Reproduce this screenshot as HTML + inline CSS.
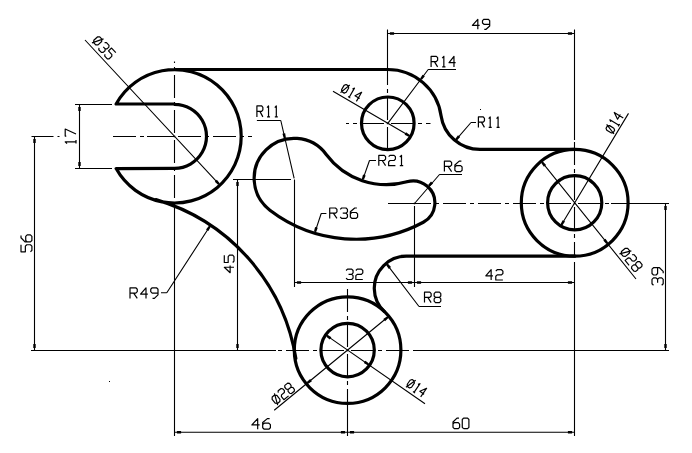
<!DOCTYPE html>
<html><head><meta charset="utf-8"><style>
html,body{margin:0;padding:0;background:#fff;}
svg{display:block;}
.o{fill:none;stroke:#000;stroke-width:3.2;stroke-linejoin:round;stroke-linecap:round;}
.t{fill:none;stroke:#000;stroke-width:1.1;}
.c{fill:none;stroke:#000;stroke-width:1.1;}
.ar{fill:#000;}
.tx{fill:none;stroke:#000;stroke-width:1.2;stroke-linejoin:round;}
</style></head><body>
<svg width="692" height="453" viewBox="0 0 692 453">
<rect width="692" height="453" fill="#fff"/>
<path class="c" style="stroke-dasharray:0 3.5 23 4 4 4 23 4 4 4 23 4 4 4 23 4 4 4 23 4 4 4 23 4 4 4 23 4 4 4 23 4 4 4" d="M174.5 136.5 L111.5 136.5"/>
<path class="c" style="stroke-dasharray:0 3.5 23 4 4 4 23 4 4 4 23 4 4 4 23 4 4 4 23 4 4 4 23 4 4 4 23 4 4 4 23 4 4 4" d="M174.5 136.5 L252 136.5"/>
<path class="c" style="stroke-dasharray:0 3.5 23 4 4 4 23 4 4 4 23 4 4 4 23 4 4 4 23 4 4 4 23 4 4 4 23 4 4 4 23 4 4 4" d="M174.5 136.5 L174.5 61.5"/>
<path class="c" style="stroke-dasharray:0 3.5 23 4 4 4 23 4 4 4 23 4 4 4 23 4 4 4 23 4 4 4 23 4 4 4 23 4 4 4 23 4 4 4" d="M174.5 136.5 L174.5 202.5"/>
<path class="c" style="stroke-dasharray:0 3.5 23 4 4 4 23 4 4 4 23 4 4 4 23 4 4 4 23 4 4 4 23 4 4 4 23 4 4 4 23 4 4 4" d="M174.5 136.5 L174.5 136.5"/>
<path class="c" style="stroke-dasharray:0 3.5 23 4 4 4 23 4 4 4 23 4 4 4 23 4 4 4 23 4 4 4 23 4 4 4 23 4 4 4 23 4 4 4" d="M387.5 123.5 L346 123.5"/>
<path class="c" style="stroke-dasharray:0 3.5 23 4 4 4 23 4 4 4 23 4 4 4 23 4 4 4 23 4 4 4 23 4 4 4 23 4 4 4 23 4 4 4" d="M387.5 123.5 L430.5 123.5"/>
<path class="c" style="stroke-dasharray:0 3.5 23 4 4 4 23 4 4 4 23 4 4 4 23 4 4 4 23 4 4 4 23 4 4 4 23 4 4 4 23 4 4 4" d="M387.5 123.5 L387.5 77"/>
<path class="c" style="stroke-dasharray:0 3.5 23 4 4 4 23 4 4 4 23 4 4 4 23 4 4 4 23 4 4 4 23 4 4 4 23 4 4 4 23 4 4 4" d="M387.5 123.5 L387.5 151.5"/>
<path class="c" style="stroke-dasharray:0 3.5 23 4 4 4 23 4 4 4 23 4 4 4 23 4 4 4 23 4 4 4 23 4 4 4 23 4 4 4 23 4 4 4" d="M574.5 203.5 L388 203.5"/>
<path class="c" style="stroke-dasharray:0 3.5 23 4 4 4 23 4 4 4 23 4 4 4 23 4 4 4 23 4 4 4 23 4 4 4 23 4 4 4 23 4 4 4" d="M574.5 203.5 L611.5 203.5"/>
<path class="c" style="stroke-dasharray:0 3.5 23 4 4 4 23 4 4 4 23 4 4 4 23 4 4 4 23 4 4 4 23 4 4 4 23 4 4 4 23 4 4 4" d="M574.5 203.5 L574.5 139.5"/>
<path class="c" style="stroke-dasharray:0 3.5 23 4 4 4 23 4 4 4 23 4 4 4 23 4 4 4 23 4 4 4 23 4 4 4 23 4 4 4 23 4 4 4" d="M574.5 203.5 L574.5 256.5"/>
<path class="c" style="stroke-dasharray:0 3.5 23 4 4 4 23 4 4 4 23 4 4 4 23 4 4 4 23 4 4 4 23 4 4 4 23 4 4 4 23 4 4 4" d="M347.5 350.5 L275.5 350.5"/>
<path class="c" style="stroke-dasharray:0 3.5 23 4 4 4 23 4 4 4 23 4 4 4 23 4 4 4 23 4 4 4 23 4 4 4 23 4 4 4 23 4 4 4" d="M347.5 350.5 L415.5 350.5"/>
<path class="c" style="stroke-dasharray:0 3.5 23 4 4 4 23 4 4 4 23 4 4 4 23 4 4 4 23 4 4 4 23 4 4 4 23 4 4 4 23 4 4 4" d="M347.5 350.5 L347.5 287"/>
<path class="c" style="stroke-dasharray:0 3.5 23 4 4 4 23 4 4 4 23 4 4 4 23 4 4 4 23 4 4 4 23 4 4 4 23 4 4 4 23 4 4 4" d="M347.5 350.5 L347.5 405.5"/>
<path class="c" style="stroke-dasharray:0 3.5 23 4 4 4 23 4 4 4 23 4 4 4 23 4 4 4 23 4 4 4 23 4 4 4 23 4 4 4 23 4 4 4" d="M414.5 203.5 L388 203.5"/>
<path class="c" style="stroke-dasharray:0 3.5 23 4 4 4 23 4 4 4 23 4 4 4 23 4 4 4 23 4 4 4 23 4 4 4 23 4 4 4 23 4 4 4" d="M414.5 203.5 L414.5 203.5"/>
<path class="c" style="stroke-dasharray:0 3.5 23 4 4 4 23 4 4 4 23 4 4 4 23 4 4 4 23 4 4 4 23 4 4 4 23 4 4 4 23 4 4 4" d="M414.5 203.5 L414.5 203.5"/>
<path class="c" style="stroke-dasharray:0 3.5 23 4 4 4 23 4 4 4 23 4 4 4 23 4 4 4 23 4 4 4 23 4 4 4 23 4 4 4 23 4 4 4" d="M414.5 203.5 L414.5 206.5"/>
<path class="t" d="M387.5 29.5 L387.5 77 M574.5 29.5 L574.5 140 M387.5 33.5 L574.5 33.5 M75 104.5 L112 104.5 M75 168.5 L112 168.5 M79.5 104.5 L79.5 168.5 M31.5 136.5 L53.5 136.5 M57.5 136.5 L59.5 136.5 M34.5 136.5 L34.5 350.5 M233 179.5 L291 179.5 M237.5 179.5 L237.5 350.5 M294.5 179.5 L294.5 287 M414.5 206 L414.5 287 M294.5 282.5 L574.5 282.5 M611 203.5 L669 203.5 M31 350.5 L276 350.5 M415 350.5 L669 350.5 M665.5 203.5 L665.5 350.5 M174.5 202 L174.5 436 M347.5 405 L347.5 436 M574.5 262 L574.5 436 M174.5 432.3 L574.5 432.3 M85 40 L219.91 185.16 M387.8 123.3 L428.2 69.5 M428.2 69.5 L456 69.5 M333 91.2 L410.49 136.59 M455.32 140.72 L471 122.5 M471 122.5 L476 122.5 M628.5 113.4 L560.73 226.02 M541.23 161.19 L636 279 M256.9 120.5 L280.8 120.5 M280.8 120.5 L294.15 178.35 M362.43 180.69 L369.5 160.5 M369.5 160.5 L376 160.5 M414.5 203.5 L439.5 174.5 M439.5 174.5 L462 174.5 M314.67 233.09 L321.2 213.5 M321.2 213.5 L326.4 213.5 M386.14 263.34 L419 306.5 M419 306.5 L441 306.5 M210.54 225.25 L166.8 292.8 M166.8 292.8 L161 292.8 M274.2 410.3 L388.81 316.3 M325.65 334.9 L425 403.7 M147 136.5 L174.5 136.5"/>
<path class="ar" d="M389.9 32.3 L394.1 32.3 L394.1 34.7 L389.9 34.7 Z M572.1 34.7 L567.9 34.7 L567.9 32.3 L572.1 32.3 Z M80.7 106.9 L80.7 111.1 L78.3 111.1 L78.3 106.9 Z M78.3 166.1 L78.3 161.9 L80.7 161.9 L80.7 166.1 Z M35.7 138.9 L35.7 143.1 L33.3 143.1 L33.3 138.9 Z M33.3 348.1 L33.3 343.9 L35.7 343.9 L35.7 348.1 Z M238.7 181.9 L238.7 186.1 L236.3 186.1 L236.3 181.9 Z M236.3 348.1 L236.3 343.9 L238.7 343.9 L238.7 348.1 Z M296.9 281.3 L301.1 281.3 L301.1 283.7 L296.9 283.7 Z M412.1 283.7 L407.9 283.7 L407.9 281.3 L412.1 281.3 Z M416.9 281.3 L421.1 281.3 L421.1 283.7 L416.9 283.7 Z M572.1 283.7 L567.9 283.7 L567.9 281.3 L572.1 281.3 Z M666.7 205.9 L666.7 210.1 L664.3 210.1 L664.3 205.9 Z M664.3 348.1 L664.3 343.9 L666.7 343.9 L666.7 348.1 Z M176.9 431.1 L181.1 431.1 L181.1 433.5 L176.9 433.5 Z M345.1 433.5 L340.9 433.5 L340.9 431.1 L345.1 431.1 Z M349.9 431.1 L354.1 431.1 L354.1 433.5 L349.9 433.5 Z M572.1 433.5 L567.9 433.5 L567.9 431.1 L572.1 431.1 Z M218.08 184.81 L214.8 181.72 L216.85 179.81 L219.69 183.31 Z M420.13 78.42 L422.59 74.64 L424.83 76.32 L421.89 79.74 Z M408.64 136.78 L404.61 134.77 L406.02 132.35 L409.76 134.89 Z M455.41 138.86 L457.99 135.17 L460.17 136.92 L457.12 140.24 Z M560.56 224.17 L562.62 220.16 L565.02 221.6 L562.44 225.3 Z M606.37 243.93 L603.32 240.61 L605.5 238.86 L608.09 242.55 Z M543.03 161.67 L546.08 164.99 L543.9 166.74 L541.31 163.05 Z M283.75 138.16 L282.44 133.84 L285.17 133.21 L285.89 137.67 Z M361.86 178.92 L363.02 174.56 L365.67 175.46 L363.95 179.62 Z M428.14 185.02 L431 181.53 L433.04 183.44 L429.75 186.52 Z M314.06 231.33 L315.08 226.94 L317.76 227.75 L316.16 231.97 Z M387.94 263.81 L391.01 267.12 L388.83 268.88 L386.23 265.2 Z M210.62 227.1 L208.36 231.01 L206.03 229.45 L208.79 225.88 Z M388.35 318.1 L385.06 321.19 L383.28 319.02 L386.95 316.4 Z M306.85 382.1 L310.14 379.01 L311.92 381.18 L308.25 383.8 Z M367.69 365.35 L363.82 363.04 L365.41 360.73 L368.94 363.54 Z M327.51 334.85 L331.38 337.16 L329.79 339.47 L326.26 336.66 Z M173.8 135.8 h1.4 v1.4 h-1.4 Z M386.8 122.8 h1.4 v1.4 h-1.4 Z M573.8 202.8 h1.4 v1.4 h-1.4 Z M346.8 349.8 h1.4 v1.4 h-1.4 Z M413.8 202.8 h1.4 v1.4 h-1.4 Z M480 109 h1 v1 h-1 Z M109 381 h1 v1 h-1 Z"/>
<path class="o" d="M 174.5 69.5 L 387.8 69.5 L 387.8 69.5 A 53.8 53.8 0 0 1 423.04 82.65 A 53.8 53.8 0 0 1 441.06 115.67 L 441.06 115.67 A 39.3 39.3 0 0 0 454.22 139.79 A 39.3 39.3 0 0 0 479.96 149.4 L 574.7 149.4 M 574.7 256.2 L 406.29 256.2 L 406.29 256.2 A 32 32 0 0 0 383.46 265.77 A 32 32 0 0 0 374.29 288.77 A 32 32 0 0 0 384.27 311.42 M 295.87 358.44 A 198.4 198.4 0 0 0 248.83 258.81 A 198.4 198.4 0 0 0 155.9 199.64 M 116.14 168.6 L 116.14 168.6 A 66.7 66.7 0 0 0 162.13 201.84 A 66.7 66.7 0 0 0 217.07 187.65 A 66.7 66.7 0 0 0 241.2 136.3 A 66.7 66.7 0 0 0 217.07 84.95 A 66.7 66.7 0 0 0 162.13 70.76 A 66.7 66.7 0 0 0 116.14 104 L 174.5 104 L 174.5 104.3 A 32 32 0 0 1 202.21 120.3 A 32 32 0 0 1 202.21 152.3 A 32 32 0 0 1 174.5 168.3 L 116.14 168.6"/>
<path class="o" d="M 326.22 154.44 A 75.05 75.05 0 0 0 362.3 180.65 A 75.05 75.05 0 0 0 406.89 181.76 L 406.89 181.77 A 21.97 21.97 0 0 1 427.02 186.07 A 21.97 21.97 0 0 1 434.76 205.14 A 21.97 21.97 0 0 1 423.31 222.24 L 423.31 222.24 A 142.07 142.07 0 0 1 344.84 238.78 A 142.07 142.07 0 0 1 269.91 210.19 L 269.92 210.18 A 40 40 0 0 1 254.23 180.94 A 40 40 0 0 1 266.01 149.93 A 40 40 0 0 1 297.14 138.46 A 40 40 0 0 1 326.22 154.44 Z"/>
<circle class="o" cx="387.8" cy="123.3" r="26.3"/>
<circle class="o" cx="574.7" cy="202.8" r="27.1"/>
<circle class="o" cx="574.7" cy="202.8" r="53.4"/>
<circle class="o" cx="347.6" cy="350.1" r="26.7"/>
<circle class="o" cx="347.6" cy="350.1" r="53.3"/>
<g><path class="tx" transform="rotate(0 481.05 24.3)" d="M477.81 29.3 L477.81 19.3 L472.4 25.3 L479.61 25.3 M489.7 24.3 L483.93 24.3 L482.49 22.97 L482.49 20.63 L483.93 19.3 L488.26 19.3 L489.7 20.63 L489.7 25.97 L486.1 29.3 L484.29 29.3"/>
<path class="tx" transform="rotate(0 443.35 61.6)" d="M431.1 66.9 L431.1 56.3 L436.33 56.3 L437.63 57.71 L437.63 60.19 L436.33 61.6 L431.1 61.6 M434.37 61.6 L437.63 66.9 M442.21 58.07 L443.84 56.3 L443.84 66.9 M442.21 66.9 L445.47 66.9 M453.97 66.9 L453.97 56.3 L449.07 62.66 L455.6 62.66"/>
<path class="tx" transform="rotate(0 267.35 111.4)" d="M256.9 116.9 L256.9 105.9 L261.68 105.9 L262.87 107.37 L262.87 109.93 L261.68 111.4 L256.9 111.4 M259.89 111.4 L262.87 116.9 M267.05 107.73 L268.54 105.9 L268.54 116.9 M267.05 116.9 L270.04 116.9 M274.81 107.73 L276.31 105.9 L276.31 116.9 M274.81 116.9 L277.8 116.9"/>
<path class="tx" transform="rotate(0 489 122.15)" d="M478.4 127.4 L478.4 116.9 L483.25 116.9 L484.46 118.3 L484.46 120.75 L483.25 122.15 L478.4 122.15 M481.43 122.15 L484.46 127.4 M488.7 118.65 L490.21 116.9 L490.21 127.4 M488.7 127.4 L491.73 127.4 M496.57 118.65 L498.09 116.9 L498.09 127.4 M496.57 127.4 L499.6 127.4"/>
<path class="tx" transform="rotate(0 391 160.5)" d="M378.8 165.7 L378.8 155.3 L384.22 155.3 L385.58 156.69 L385.58 159.11 L384.22 160.5 L378.8 160.5 M382.19 160.5 L385.58 165.7 M388.63 156.69 L389.98 155.3 L394.05 155.3 L395.41 156.69 L395.41 159.11 L394.05 160.5 L389.98 160.5 L388.63 161.89 L388.63 165.7 L395.41 165.7 M399.81 157.03 L401.51 155.3 L401.51 165.7 M399.81 165.7 L403.2 165.7"/>
<path class="tx" transform="rotate(0 453.25 166.35)" d="M444.4 171.6 L444.4 161.1 L450.18 161.1 L451.62 162.5 L451.62 164.95 L450.18 166.35 L444.4 166.35 M448.01 166.35 L451.62 171.6 M461.38 161.1 L459.21 161.1 L454.88 164.95 L454.88 170.2 L456.32 171.6 L460.66 171.6 L462.1 170.2 L462.1 167.05 L460.66 165.65 L456.32 165.65 L454.88 167.05"/>
<path class="tx" transform="rotate(0 343.65 213.2)" d="M329.7 218.4 L329.7 208 L335.5 208 L336.95 209.39 L336.95 211.81 L335.5 213.2 L329.7 213.2 M333.32 213.2 L336.95 218.4 M340.21 209.39 L341.66 208 L346.01 208 L347.45 209.39 L347.45 211.81 L346.01 213.2 L347.45 214.59 L347.45 217.01 L346.01 218.4 L341.66 218.4 L340.21 217.01 M342.74 213.2 L346.01 213.2 M356.88 208 L354.7 208 L350.35 211.81 L350.35 217.01 L351.8 218.4 L356.15 218.4 L357.6 217.01 L357.6 213.89 L356.15 212.51 L351.8 212.51 L350.35 213.89"/>
<path class="tx" transform="rotate(0 354.45 274.3)" d="M346.1 270.49 L347.49 269.1 L351.67 269.1 L353.06 270.49 L353.06 272.91 L351.67 274.3 L353.06 275.69 L353.06 278.11 L351.67 279.5 L347.49 279.5 L346.1 278.11 M348.54 274.3 L351.67 274.3 M355.84 270.49 L357.23 269.1 L361.41 269.1 L362.8 270.49 L362.8 272.91 L361.41 274.3 L357.23 274.3 L355.84 275.69 L355.84 279.5 L362.8 279.5"/>
<path class="tx" transform="rotate(0 494.35 274.85)" d="M491.14 280 L491.14 269.7 L485.8 275.88 L492.93 275.88 M495.78 271.07 L497.2 269.7 L501.48 269.7 L502.9 271.07 L502.9 273.48 L501.48 274.85 L497.2 274.85 L495.78 276.22 L495.78 280 L502.9 280"/>
<path class="tx" transform="rotate(0 432.65 297.4)" d="M424.5 302.6 L424.5 292.2 L429.82 292.2 L431.15 293.59 L431.15 296.01 L429.82 297.4 L424.5 297.4 M427.83 297.4 L431.15 302.6 M435.48 297.4 L434.15 296.01 L434.15 293.59 L435.48 292.2 L439.47 292.2 L440.8 293.59 L440.8 296.01 L439.47 297.4 L435.48 297.4 L434.15 298.79 L434.15 301.21 L435.48 302.6 L439.47 302.6 L440.8 301.21 L440.8 298.79 L439.47 297.4"/>
<path class="tx" transform="rotate(0 144 293.1)" d="M130 298.4 L130 287.8 L135.82 287.8 L137.27 289.21 L137.27 291.69 L135.82 293.1 L130 293.1 M133.64 293.1 L137.27 298.4 M146 298.4 L146 287.8 L140.55 294.16 L147.82 294.16 M158 293.1 L152.18 293.1 L150.73 291.69 L150.73 289.21 L152.18 287.8 L156.55 287.8 L158 289.21 L158 294.87 L154.36 298.4 L152.55 298.4"/>
<path class="tx" transform="rotate(0 261.15 423.9)" d="M257.68 429.2 L257.68 418.6 L251.9 424.96 L259.61 424.96 M269.63 418.6 L267.32 418.6 L262.69 422.49 L262.69 427.79 L264.23 429.2 L268.86 429.2 L270.4 427.79 L270.4 424.61 L268.86 423.19 L264.23 423.19 L262.69 424.61"/>
<path class="tx" transform="rotate(0 460.95 423.4)" d="M458.96 418.1 L456.97 418.1 L453 421.99 L453 427.29 L454.32 428.7 L458.3 428.7 L459.62 427.29 L459.62 424.11 L458.3 422.69 L454.32 422.69 L453 424.11 M463.6 428.7 L467.57 428.7 L468.9 427.29 L468.9 419.51 L467.57 418.1 L463.6 418.1 L462.27 419.51 L462.27 427.29 L463.6 428.7"/>
<path class="tx" transform="rotate(-90 70.6 136.3)" d="M63.3 132.7 L65.08 130.9 L65.08 141.7 M63.3 141.7 L66.86 141.7 M70.78 131.98 L70.78 130.9 L77.9 130.9 L72.91 141.7"/>
<path class="tx" transform="rotate(-90 26.45 243.35)" d="M25.04 237.9 L18 237.9 L18 242.26 L23.63 242.26 L25.04 243.71 L25.04 247.35 L23.63 248.8 L19.41 248.8 L18 247.35 M34.2 237.9 L32.08 237.9 L27.86 241.9 L27.86 247.35 L29.27 248.8 L33.49 248.8 L34.9 247.35 L34.9 244.08 L33.49 242.62 L29.27 242.62 L27.86 244.08"/>
<path class="tx" transform="rotate(-90 229.15 263.95)" d="M225.87 268.8 L225.87 259.1 L220.4 264.92 L227.69 264.92 M237.9 259.1 L230.61 259.1 L230.61 262.98 L236.44 262.98 L237.9 264.27 L237.9 267.51 L236.44 268.8 L232.07 268.8 L230.61 267.51"/>
<path class="tx" transform="rotate(-90 657.6 276.45)" d="M648.85 272.34 L650.31 270.85 L654.68 270.85 L656.14 272.34 L656.14 274.96 L654.68 276.45 L656.14 277.94 L656.14 280.56 L654.68 282.05 L650.31 282.05 L648.85 280.56 M651.4 276.45 L654.68 276.45 M666.35 276.45 L660.52 276.45 L659.06 274.96 L659.06 272.34 L660.52 270.85 L664.89 270.85 L666.35 272.34 L666.35 278.32 L662.7 282.05 L660.88 282.05"/>
<path class="tx" transform="rotate(47 103.8 47.4)" d="M93.36 51.6 L96.48 51.6 L98.03 49.85 L98.03 44.95 L96.48 43.2 L93.36 43.2 L91.8 44.95 L91.8 49.85 L93.36 51.6 M92.42 53 L97.41 41.8 M100.84 43.55 L102.09 42.15 L105.83 42.15 L107.07 43.55 L107.07 46 L105.83 47.4 L107.07 48.8 L107.07 51.25 L105.83 52.65 L102.09 52.65 L100.84 51.25 M103.02 47.4 L105.83 47.4 M115.8 42.15 L109.57 42.15 L109.57 46.35 L114.55 46.35 L115.8 47.75 L115.8 51.25 L114.55 52.65 L110.81 52.65 L109.57 51.25"/>
<path class="tx" transform="rotate(30 351.5 92.5)" d="M342.83 96.7 L345.5 96.7 L346.83 94.95 L346.83 90.05 L345.5 88.3 L342.83 88.3 L341.5 90.05 L341.5 94.95 L342.83 96.7 M342.03 98.1 L346.3 86.9 M350.57 89 L351.9 87.25 L351.9 97.75 M350.57 97.75 L353.23 97.75 M360.17 97.75 L360.17 87.25 L356.17 93.55 L361.5 93.55"/>
<path class="tx" transform="rotate(-59 614.2 122.8)" d="M605.32 127 L608.05 127 L609.42 125.25 L609.42 120.35 L608.05 118.6 L605.32 118.6 L603.95 120.35 L603.95 125.25 L605.32 127 M604.5 128.4 L608.87 117.2 M613.24 119.3 L614.61 117.55 L614.61 128.05 M613.24 128.05 L615.98 128.05 M623.08 128.05 L623.08 117.55 L618.98 123.85 L624.45 123.85"/>
<path class="tx" transform="rotate(51 631.1 259.4)" d="M620.44 263.6 L623.62 263.6 L625.21 261.85 L625.21 256.95 L623.62 255.2 L620.44 255.2 L618.85 256.95 L618.85 261.85 L620.44 263.6 M619.49 265 L624.58 253.8 M628.08 255.55 L629.35 254.15 L633.17 254.15 L634.44 255.55 L634.44 258 L633.17 259.4 L629.35 259.4 L628.08 260.8 L628.08 264.65 L634.44 264.65 M638.26 259.4 L636.99 258 L636.99 255.55 L638.26 254.15 L642.08 254.15 L643.35 255.55 L643.35 258 L642.08 259.4 L638.26 259.4 L636.99 260.8 L636.99 263.25 L638.26 264.65 L642.08 264.65 L643.35 263.25 L643.35 260.8 L642.08 259.4"/>
<path class="tx" transform="rotate(-39 282.8 393.8)" d="M272.58 398 L275.63 398 L277.15 396.25 L277.15 391.35 L275.63 389.6 L272.58 389.6 L271.05 391.35 L271.05 396.25 L272.58 398 M271.66 399.4 L276.54 388.2 M279.9 389.95 L281.12 388.55 L284.78 388.55 L286 389.95 L286 392.4 L284.78 393.8 L281.12 393.8 L279.9 395.2 L279.9 399.05 L286 399.05 M289.67 393.8 L288.45 392.4 L288.45 389.95 L289.67 388.55 L293.33 388.55 L294.55 389.95 L294.55 392.4 L293.33 393.8 L289.67 393.8 L288.45 395.2 L288.45 397.65 L289.67 399.05 L293.33 399.05 L294.55 397.65 L294.55 395.2 L293.33 393.8"/>
<path class="tx" transform="rotate(34.6 416.7 387.8)" d="M408.25 392 L410.85 392 L412.15 390.25 L412.15 385.35 L410.85 383.6 L408.25 383.6 L406.95 385.35 L406.95 390.25 L408.25 392 M407.47 393.4 L411.63 382.2 M415.79 384.3 L417.09 382.55 L417.09 393.05 M415.79 393.05 L418.39 393.05 M425.15 393.05 L425.15 382.55 L421.25 388.85 L426.45 388.85"/></g>
</svg></body></html>
